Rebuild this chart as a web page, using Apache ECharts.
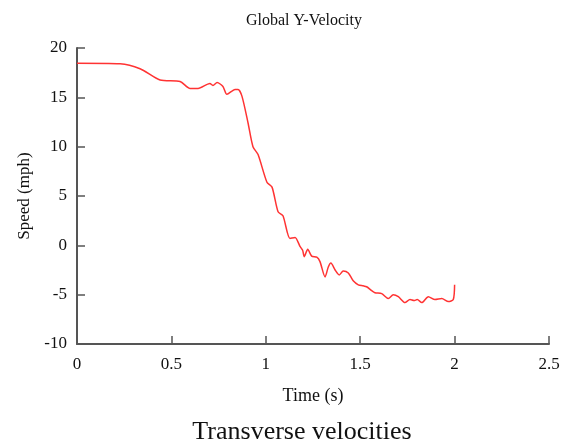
<!DOCTYPE html>
<html>
<head>
<meta charset="utf-8">
<script src="https://cdn.jsdelivr.net/npm/echarts@6/dist/echarts.min.js"></script>
<style>
  html, body { margin: 0; padding: 0; background: #fff; }
  #chart { width: 574px; height: 447px; }
</style>
</head>
<body>
<div id="chart"></div>
<script>
// Time samples (s) and global Y-velocity (mph)
const timeS = [
  0, 0.228, 0.334, 0.44, 0.546, 0.599, 0.641, 0.704, 0.72, 0.742, 0.773, 0.794,
  0.837, 0.853, 0.874, 0.906, 0.932, 0.959, 1.006, 1.033, 1.065, 1.091, 1.128,
  1.155, 1.181, 1.195, 1.204, 1.222, 1.243, 1.27, 1.287, 1.314, 1.331, 1.345,
  1.367, 1.389, 1.41, 1.437, 1.463, 1.49, 1.516, 1.534, 1.561, 1.578, 1.614,
  1.649, 1.675, 1.702, 1.737, 1.764, 1.785, 1.802, 1.826, 1.861, 1.896, 1.932,
  1.967, 1.993, 2.0
];
const speedMph = [
  18.45, 18.4, 17.9, 16.75, 16.6, 15.9, 15.9, 16.4, 16.2, 16.5, 16.1, 15.3,
  15.8, 15.8, 15.1, 12.4, 10.0, 9.2, 6.4, 5.9, 3.4, 3.0, 0.7,
  0.8, -0.1, -0.5, -1.15, -0.4, -1.1, -1.2, -1.65, -3.2, -2.2, -1.8,
  -2.5, -3.0, -2.6, -2.8, -3.6, -4.0, -4.1, -4.2, -4.6, -4.8, -4.9,
  -5.4, -5.0, -5.2, -5.8, -5.5, -5.6, -5.5, -5.8, -5.2, -5.5, -5.4,
  -5.7, -5.5, -4.0
];
const xTicks = { min: 0, max: 2.5, step: 0.5 };
const yTicks = { min: -10, max: 20, step: 5 };

const points = timeS.map((t, i) => [t, speedMph[i]]);

const serif = '"Liberation Serif", "Times New Roman", serif';
const axisGrey = '#555555';
const textColor = '#111111';

const chart = echarts.init(document.getElementById('chart'), null, { renderer: 'canvas' });
chart.setOption({
  animation: false,
  backgroundColor: '#ffffff',
  title: [
    {
      text: 'Global Y-Velocity',
      left: 299, top: 8, textAlign: 'center',
      textStyle: { fontFamily: serif, fontSize: 16, fontWeight: 'normal', color: textColor }
    },
    {
      text: 'Transverse velocities',
      left: 297, top: 414, textAlign: 'center',
      textStyle: { fontFamily: serif, fontSize: 26, fontWeight: 'normal', color: textColor }
    }
  ],
  grid: { left: 77, right: 25, top: 48, bottom: 103, containLabel: false },
  xAxis: {
    type: 'value',
    min: xTicks.min, max: xTicks.max, interval: xTicks.step,
    name: 'Time (s)', nameLocation: 'middle', nameGap: 43,
    nameTextStyle: { fontFamily: serif, fontSize: 18, color: textColor },
    axisLine: { show: true, onZero: false, lineStyle: { color: axisGrey, width: 2 } },
    axisTick: { show: true, inside: true, length: 8, lineStyle: { color: axisGrey, width: 1.5 } },
    axisLabel: { fontFamily: serif, fontSize: 17, color: textColor, margin: 12 },
    splitLine: { show: false }
  },
  yAxis: {
    type: 'value',
    min: yTicks.min, max: yTicks.max, interval: yTicks.step,
    name: 'Speed (mph)', nameLocation: 'middle', nameGap: 44, nameRotate: 90,
    nameTextStyle: { fontFamily: serif, fontSize: 17, color: textColor },
    axisLine: { show: true, onZero: false, lineStyle: { color: axisGrey, width: 2 } },
    axisTick: { show: true, inside: true, length: 8, lineStyle: { color: axisGrey, width: 1.5 } },
    axisLabel: { fontFamily: serif, fontSize: 17, color: textColor, margin: 10 },
    splitLine: { show: false }
  },
  series: [{
    type: 'line',
    data: points,
    showSymbol: false,
    smooth: 0.25,
    lineStyle: { color: '#ff3333', width: 1.5 },
    itemStyle: { color: '#ff3333' }
  }]
});
</script>
</body>
</html>
